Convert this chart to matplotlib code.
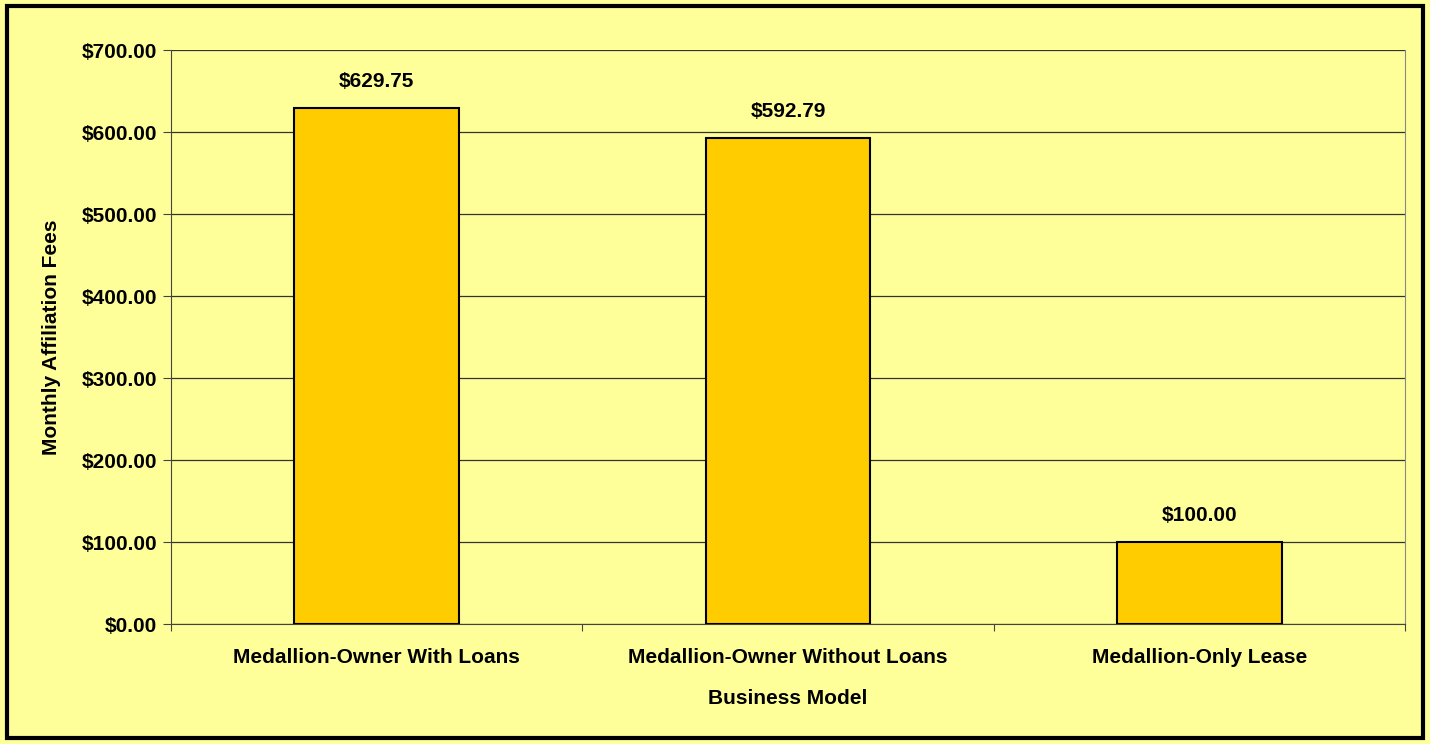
import matplotlib
matplotlib.use('Agg')
import matplotlib.pyplot as plt
from matplotlib.patches import Rectangle
from matplotlib.ticker import MultipleLocator, FuncFormatter

# data
models = ['Medallion-Owner With Loans', 'Medallion-Owner Without Loans', 'Medallion-Only Lease']
fees = [629.75, 592.79, 100.00]

plt.rcParams['font.family'] = ['Liberation Sans', 'DejaVu Sans']
plt.rcParams['font.weight'] = 'bold'

bg = '#ffff99'
fig = plt.figure(figsize=(14.3, 7.44), dpi=100, facecolor=bg)
ax = fig.add_axes([171/1430, 1-624/744, (1405-171)/1430, (624-50)/744])
ax.set_facecolor(bg)

x = list(range(len(models)))
bars = ax.bar(x, fees, width=0.4, color='#ffcc00', edgecolor='black', linewidth=1.5, zorder=3)
for b, v in zip(bars, fees):
    ax.annotate('${:,.2f}'.format(v), (b.get_x() + b.get_width()/2, v),
                xytext=(0, 12), textcoords='offset points', ha='center', va='bottom',
                fontsize=15, fontweight='bold')

ax.set_ylim(0, 700)
ax.set_xlim(-0.5, len(models) - 0.5)
ax.yaxis.set_major_locator(MultipleLocator(100))
ax.yaxis.set_major_formatter(FuncFormatter(lambda v, p: '${:,.2f}'.format(v)))
ax.grid(axis='y', color='#333333', linewidth=0.9, zorder=0)

ax.set_xticks([i - 0.5 for i in range(len(models) + 1)], minor=False)
ax.set_xticklabels([])
ax.set_xticks(x, minor=True)
ax.set_xticklabels(models, minor=True)
ax.tick_params(axis='x', which='minor', length=0, pad=17, labelsize=15)
ax.tick_params(axis='x', which='major', length=5, color='#444444')
ax.tick_params(axis='y', length=6, color='#444444', labelsize=15, pad=4)

ax.spines['top'].set_visible(False)
ax.spines['left'].set_color('#444444')
ax.spines['bottom'].set_color('#444444')
ax.spines['right'].set_color('#888888')

ax.set_ylabel('Monthly Affiliation Fees', fontsize=15, fontweight='bold', labelpad=15)
ax.set_xlabel('Business Model', fontsize=15, fontweight='bold', labelpad=16)

# outer border
fig.patches.append(Rectangle((7/1430, 6/744), 1416/1430, 732/744, transform=fig.transFigure,
                             fill=False, edgecolor='black', linewidth=3))

fig.savefig('out.png', dpi=100, facecolor=bg)
